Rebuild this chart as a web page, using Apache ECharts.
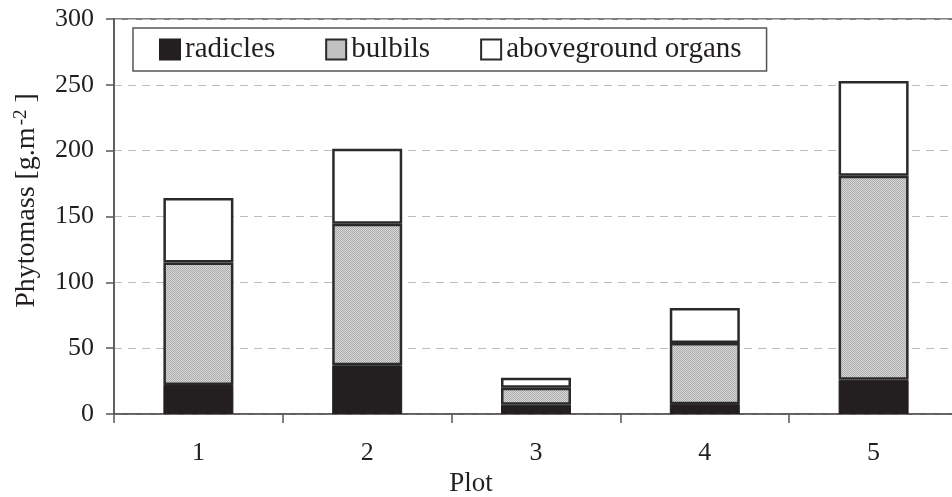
<!DOCTYPE html>
<html>
<head>
<meta charset="utf-8">
<script src="https://cdn.jsdelivr.net/npm/echarts@6/dist/echarts.min.js"></script>
<style>
  html, body { margin: 0; padding: 0; background: #fff; }
  #chart { width: 952px; height: 497px; }
</style>
</head>
<body>
<div id="chart"></div>
<script>
// data
const plots = ['1', '2', '3', '4', '5'];
const radicles = [22, 37, 7, 7.5, 26];
const bulbils = [93, 107.5, 13, 46.5, 155];
const aboveground = [49, 57, 7.5, 26.5, 72];
const yTicks = [0, 50, 100, 150, 200, 250, 300];

const ink = '#231f20';
const font = '"Liberation Serif", "DejaVu Serif", serif';

// fine grey texture like the bulbils fill
function grayPattern() {
  const c = document.createElement('canvas');
  c.width = 4; c.height = 4;
  const g = c.getContext('2d');
  g.fillStyle = '#d6d6d6';
  g.fillRect(0, 0, 4, 4);
  g.fillStyle = '#adadad';
  g.fillRect(0, 0, 1, 1); g.fillRect(2, 0, 1, 1);
  g.fillRect(1, 1, 1, 1); g.fillRect(3, 1, 1, 1);
  g.fillRect(0, 2, 1, 1); g.fillRect(2, 2, 1, 1);
  g.fillRect(1, 3, 1, 1); g.fillRect(3, 3, 1, 1);
  return { image: c, repeat: 'repeat' };
}

const chart = echarts.init(document.getElementById('chart'), null, { renderer: 'canvas' });

chart.setOption({
  animation: false,
  textStyle: { fontFamily: font, color: ink },
  grid: {
    left: 114, top: 19, width: 844, bottom: 83,
    outerBoundsMode: 'none',
    show: true, borderColor: '#555', borderWidth: 1.5, containLabel: false
  },
  legend: {
    left: 133, top: 28,
    padding: [7, 25, 7, 26],
    borderColor: '#555', borderWidth: 1.5,
    itemWidth: 20, itemHeight: 20, itemGap: 50,
    icon: 'rect',
    textStyle: { fontFamily: font, fontSize: 29, color: ink },
    data: ['radicles', 'bulbils', 'aboveground organs']
  },
  xAxis: {
    type: 'category',
    data: plots,
    name: 'Plot',
    nameLocation: 'middle',
    nameGap: 52,
    nameTextStyle: { fontFamily: font, fontSize: 27, color: ink, padding: [0, 130, 0, 0] },
    axisLine: { lineStyle: { color: '#555', width: 1.5 } },
    axisTick: { show: true, length: 9, lineStyle: { color: '#555', width: 1.5 } },
    axisLabel: { fontFamily: font, fontSize: 26, color: ink, margin: 26 }
  },
  yAxis: {
    type: 'value',
    min: 0, max: 300, interval: 50,
    name: '{a|Phytomass [g.m}{s|-2}{a| ]}',
    nameLocation: 'middle',
    nameGap: 73,
    nameRotate: 90,
    nameTextStyle: {
      padding: [0, 0, 0, 32],
      rich: {
        a: { fontFamily: font, fontSize: 28, color: ink },
        s: { fontFamily: font, fontSize: 19, color: ink, verticalAlign: 'top', padding: [0, 0, 10, 2] }
      }
    },
    axisLine: { show: true, lineStyle: { color: '#555', width: 1.5 } },
    axisTick: { show: true, length: 8, lineStyle: { color: '#555', width: 1.5 } },
    axisLabel: {
      fontFamily: font, fontSize: 26, color: ink, margin: 20,
      formatter: (v) => (yTicks.includes(v) ? String(v) : '')
    },
    splitLine: { lineStyle: { color: '#bdbdbd', type: [8, 6], width: 1 } }
  },
  series: [
    {
      name: 'radicles', type: 'bar', stack: 'total', barWidth: 70,
      data: radicles,
      itemStyle: { color: ink, borderColor: ink, borderWidth: 1 }
    },
    {
      name: 'bulbils', type: 'bar', stack: 'total', barWidth: 70,
      data: bulbils,
      itemStyle: { color: grayPattern(), borderColor: '#2a2a2a', borderWidth: 2.5 }
    },
    {
      name: 'aboveground organs', type: 'bar', stack: 'total', barWidth: 70,
      data: aboveground,
      itemStyle: { color: '#fff', borderColor: '#2a2a2a', borderWidth: 2.5 }
    }
  ]
});
</script>
</body>
</html>
